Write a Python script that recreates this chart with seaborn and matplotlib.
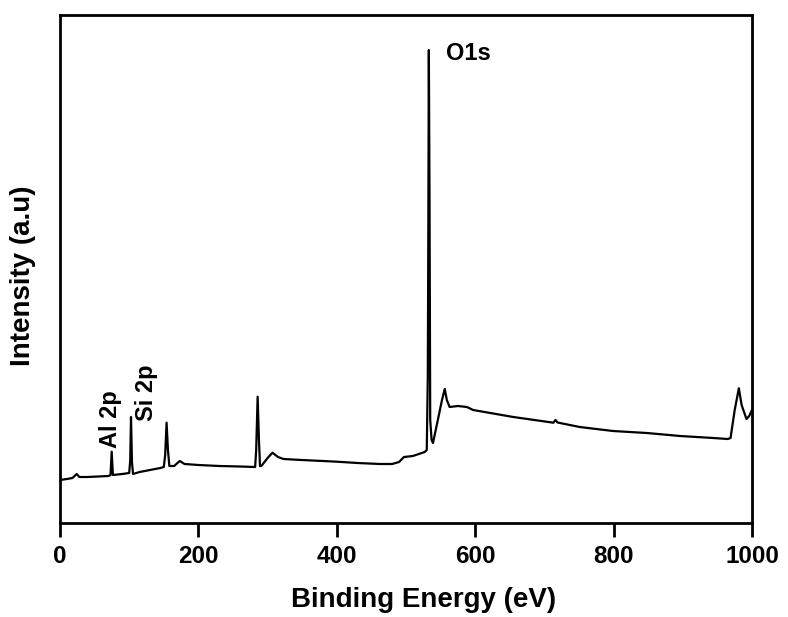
import numpy as np
import pandas as pd
import matplotlib
matplotlib.use("Agg")
import matplotlib.pyplot as plt
import seaborn as sns

# Binding energy (eV) and intensity (a.u.)
energy = [0, 10, 18, 24, 28, 40, 55, 70, 73, 74.7, 76.5, 90, 100, 101.5, 102.6, 104, 105.5,
          115, 130, 145, 150, 152, 154, 156, 158, 165, 173, 180, 200, 230, 260, 282, 283.5,
          285.6, 287.5, 289, 291, 300, 307, 315, 323, 349, 380, 400, 430, 462, 480, 490, 497,
          510, 527, 530, 531.5, 532.3, 533, 534, 535, 537, 539, 546, 552, 556, 559, 563, 575,
          588, 597, 655, 713, 716, 719, 751, 799, 848, 896, 944, 965, 969, 975, 981, 985, 992,
          996, 1000]
intensity = [43, 44, 45, 49, 46, 46, 46.5, 47, 48, 71.3, 48, 49, 50, 63, 106, 61, 49,
             51, 53, 55, 56, 68, 100.3, 73, 57, 57, 62, 59, 58, 57, 56.5, 56, 73,
             126.3, 83, 57, 57, 65, 70.3, 66, 64, 63, 62, 61.3, 60, 59, 59, 61, 66,
             67, 71, 73, 146, 300, 473, 323, 103, 83, 80, 103, 123, 134, 123, 116, 117,
             116, 113, 106, 100.3, 103, 100.5, 96, 92, 90, 87, 85, 84, 85, 113, 134.7, 118, 104,
             107, 113]

xticks = [0, 200, 400, 600, 800, 1000]
peak_labels = ["O1s", "Al 2p", "Si 2p"]

df = pd.DataFrame({"Binding Energy (eV)": energy, "Intensity (a.u)": intensity})

sns.set_style("ticks")
plt.rcParams["font.family"] = ["Liberation Sans", "DejaVu Sans"]
plt.rcParams["font.weight"] = "bold"
plt.rcParams["text.color"] = "black"
plt.rcParams["axes.labelcolor"] = "black"
plt.rcParams["xtick.color"] = "black"
plt.rcParams["ytick.color"] = "black"

fig = plt.figure(figsize=(7.88, 6.17), dpi=100)
ax = fig.add_axes([60 / 788, 1 - 523 / 617, 692 / 788, 508 / 617])

sns.lineplot(data=df, x="Binding Energy (eV)", y="Intensity (a.u)", ax=ax,
             color="black", linewidth=1.6, sort=False, estimator=None)

ax.set_xlim(0, 1000)
ax.set_ylim(0, 508)
ax.set_xticks(xticks)
ax.set_xticklabels([str(t) for t in xticks], fontsize=17.5, fontweight="bold", color="black")
ax.set_yticks([])
ax.tick_params(axis="x", direction="out", length=10, width=2, pad=6, color="black",
               labelcolor="black")

for s in ax.spines.values():
    s.set_visible(True)
    s.set_linewidth(2)
    s.set_color("black")

ax.set_xlabel("Binding Energy (eV)", fontsize=20, fontweight="bold", color="black")
ax.set_ylabel("Intensity (a.u)", fontsize=20, fontweight="bold", color="black")
ax.xaxis.set_label_coords(0.526, -0.126)
ax.yaxis.set_label_coords(-0.034, 0.486)

ax.text(590, 470, peak_labels[0], fontsize=17, fontweight="bold", ha="center", va="center",
        color="black")
ax.text(72.5, 104, peak_labels[1], fontsize=17, fontweight="bold", rotation=90,
        ha="center", va="center", color="black")
ax.text(125, 130, peak_labels[2], fontsize=17, fontweight="bold", rotation=90,
        ha="center", va="center", color="black")

fig.savefig("out.png", dpi=100)
